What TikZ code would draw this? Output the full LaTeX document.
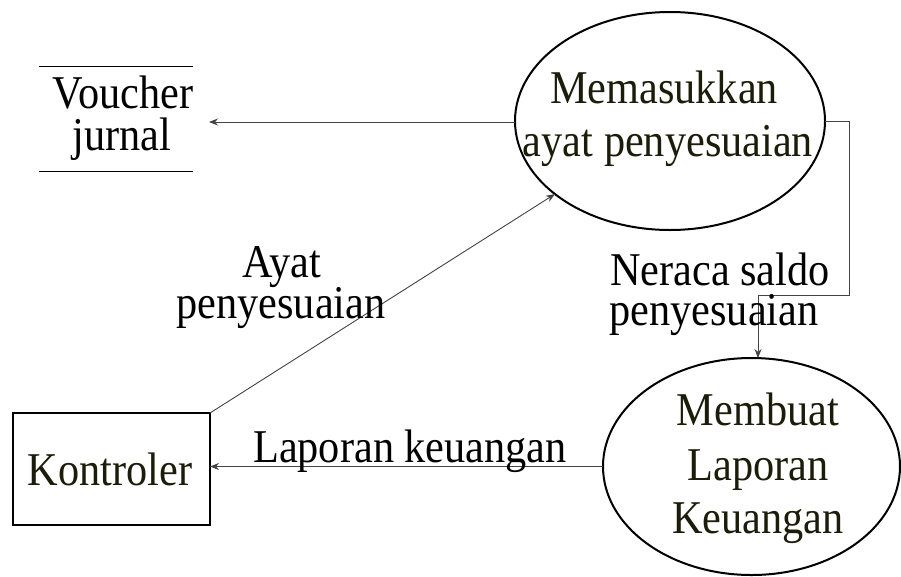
\documentclass[tikz,border=0pt]{standalone}
\usepackage{fontspec}
\usepackage{graphicx}
\setmainfont{Liberation Serif}
\usetikzlibrary{shapes.geometric,arrows.meta}
\definecolor{inktext}{HTML}{1C1C0A}
\definecolor{flowline}{HTML}{444444}
\newcommand\narrow[1]{\scalebox{0.9}[1]{#1}}
\begin{document}
\begin{tikzpicture}[x=1pt,y=-1pt,
  every node/.style={inner sep=0pt, outer sep=0pt},
  txt/.style={anchor=base, font=\fontsize{47}{54}\selectfont},
  inner/.style={txt, text=inktext},
  procellipse/.style={ellipse, draw=black, line width=2pt},
  entitybox/.style={draw=black, line width=2pt},
  flow/.style={draw=flowline, line width=0.9pt, -{Stealth[length=9pt,width=7pt]}},
  storeline/.style={draw=black, line width=1pt}]
\useasboundingbox[fill=white] (0,0) rectangle (901,576);

% processes
\node[procellipse, minimum width=310pt, minimum height=218pt] (p1) at (670,121) {};
\node[inner] (p1a) at (664,103) {\narrow{Memasukkan}};
\node[inner] (p1b) at (668,156) {\narrow{ayat penyesuaian}};

\node[procellipse, minimum width=297pt, minimum height=217pt] (p2) at (751.5,466.5) {};
\node[inner] (p2a) at (758,425) {\narrow{Membuat}};
\node[inner] (p2b) at (758,480) {\narrow{Laporan}};
\node[inner] (p2c) at (758,533) {\narrow{Keuangan}};

% external entity
\node[entitybox, minimum width=197pt, minimum height=112pt] (k) at (111.5,469) {};
\node[inner] (ka) at (110,485) {\narrow{Kontroler}};

% data store
\node[minimum width=154pt, minimum height=105pt] (v) at (116,118.5) {};
\draw[storeline] (v.north west) -- (v.north east);
\draw[storeline] (v.south west) -- (v.south east);
\node[txt] (va) at (123,108) {\narrow{Voucher}};
\node[txt] (vb) at (122,150) {\narrow{jurnal}};

% flows
\coordinate (vin) at (209,122);
\draw[flow] (p1.west |- vin) -- (vin);

\draw[flow] (k.north east) -- (p1);
\node[txt] (l1a) at (282,277) {\narrow{Ayat}};
\node[txt] (l1b) at (281,318) {\narrow{penyesuaian}};

\coordinate (c1) at (849,295);
\coordinate (c2) at (758,295);
\draw[flow] (p1.east) -| (c1) -- (c2) -- (c2 |- p2.north);
\node[txt] (l2a) at (720,285) {\narrow{Neraca saldo}};
\node[txt] (l2b) at (714,325) {\narrow{penyesuaian}};

\draw[flow] (p2.west) -- (p2.west -| k.east);
\node[txt] (l3) at (410,462) {\narrow{Laporan keuangan}};
\end{tikzpicture}
\end{document}
